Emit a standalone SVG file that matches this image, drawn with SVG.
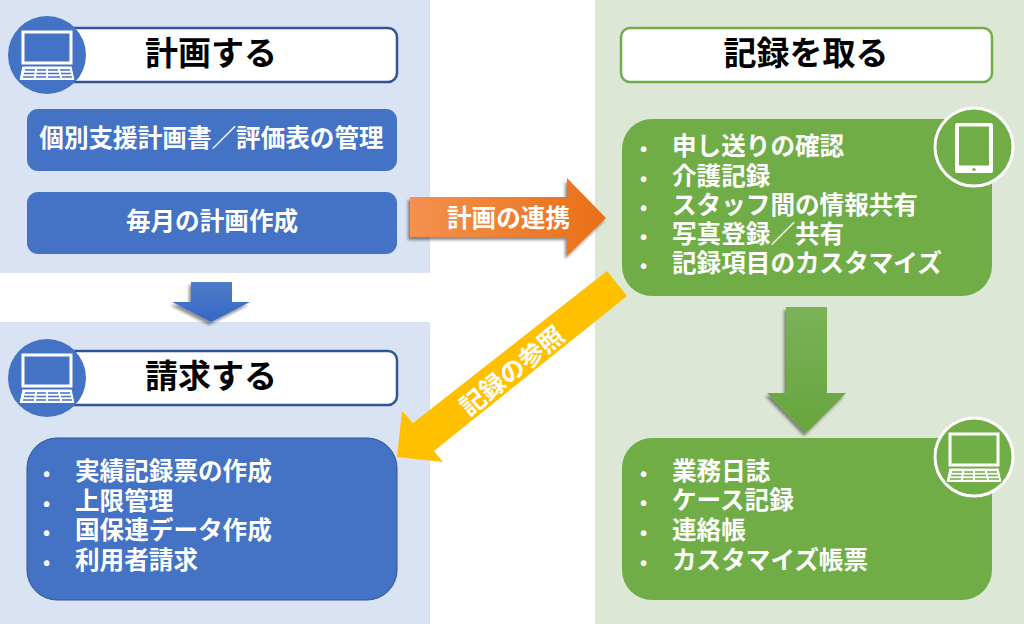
<svg xmlns="http://www.w3.org/2000/svg" width="1024" height="624" viewBox="0 0 1024 624">
<style>
text{font-family:"Noto Sans CJK JP","Noto Sans",sans-serif;font-weight:700}
.t{font-size:33px;fill:#000;text-anchor:middle}
.w{font-size:24.600px;fill:#fff}
.c{text-anchor:middle}
.b{font-size:19px}
.blue{fill:#4472c4}
.green{fill:#70ad47}
</style>
<defs>
<linearGradient id="gO" x1="0" y1="0" x2="1" y2="0"><stop offset="0" stop-color="#f4914f"/><stop offset="1" stop-color="#e96f17"/></linearGradient>
<linearGradient id="gB" x1="0" y1="0" x2="0" y2="1"><stop offset="0" stop-color="#4f7ccb"/><stop offset="1" stop-color="#3567c4"/></linearGradient>
<linearGradient id="gG" x1="0" y1="0" x2="0" y2="1"><stop offset="0" stop-color="#7bb258"/><stop offset="1" stop-color="#66a53d"/></linearGradient>
<filter id="sh" x="-20%" y="-20%" width="140%" height="140%"><feDropShadow dx="-2" dy="3" stdDeviation="1.500" flood-color="#000" flood-opacity=".45"/></filter>
<g id="lap">
<path d="M-24-23H24V8H-24Z" fill="none" stroke="#fff" stroke-width="3"/>
<path d="M-25 11H25L28 25.500H-28Z" fill="#fff"/>
<path d="M-22 15H-12M-10 15H-1M1 15H11M13 15H23M-23 18.500H-12.500M-10.500 18.500H-1M1 18.500H12M14 18.500H24M-24 22H-13M-11 22H-1M1 22H13M15 22H25" stroke-width="1.600" fill="none"/>
</g>
</defs>
<g id="panels">
<rect x="0" y="0" width="430" height="273" fill="#dae3f3"/>
<rect x="0" y="322" width="430" height="302" fill="#dae3f3"/>
<rect x="595" y="0" width="429" height="624" fill="#dde7d5"/>
</g>
<g id="plan-title">
<rect x="60" y="28" width="337" height="54" rx="9" fill="#fff" stroke="#2f5597" stroke-width="2.500"/>
<circle cx="47" cy="55" r="39" class="blue"/>
<use href="#lap" x="47" y="55" stroke="#4472c4"/>
<text x="211" y="65" class="t">計画する</text>
</g>
<g id="plan-1"><rect x="27" y="109" width="370" height="62" rx="11" class="blue"/><text x="211.500" y="147" class="w c">個別支援計画書／評価表の管理</text></g>
<g id="plan-2"><rect x="27" y="192" width="370" height="62" rx="11" class="blue"/><text x="212" y="230" class="w c">毎月の計画作成</text></g>
<g id="bill-title">
<rect x="60" y="351" width="337" height="54" rx="9" fill="#fff" stroke="#2f5597" stroke-width="2.500"/>
<circle cx="47" cy="378" r="39" class="blue"/>
<use href="#lap" x="47" y="378" stroke="#4472c4"/>
<text x="211" y="388" class="t">請求する</text>
</g>
<g id="bill-list">
<rect x="27" y="438" width="370" height="162" rx="30" class="blue" stroke="#2f5597"/>
<text class="w"><tspan class="b" x="43" y="480">•</tspan><tspan x="75" y="480">実績記録票の作成</tspan><tspan class="b" x="43" y="510">•</tspan><tspan x="75" y="510">上限管理</tspan><tspan class="b" x="43" y="539">•</tspan><tspan x="75" y="539">国保連データ作成</tspan><tspan class="b" x="43" y="569">•</tspan><tspan x="75" y="569">利用者請求</tspan></text>
</g>
<g id="rec-title">
<rect x="621" y="28" width="371" height="54" rx="9" fill="#fff" stroke="#70ad47" stroke-width="2.500"/>
<text x="806" y="65" class="t">記録を取る</text>
</g>
<g id="rec-list">
<rect x="622" y="119" width="370" height="177" rx="30" class="green"/>
<text class="w"><tspan class="b" x="640" y="155">•</tspan><tspan x="672" y="155">申し送りの確認</tspan><tspan class="b" x="640" y="185">•</tspan><tspan x="672" y="185">介護記録</tspan><tspan class="b" x="640" y="214">•</tspan><tspan x="672" y="214">スタッフ間の情報共有</tspan><tspan class="b" x="640" y="243">•</tspan><tspan x="672" y="243">写真登録／共有</tspan><tspan class="b" x="640" y="272">•</tspan><tspan x="672" y="272">記録項目のカスタマイズ</tspan></text>
</g>
<g id="tablet">
<circle cx="974" cy="147" r="39" class="green" stroke="#fff" stroke-width="3"/>
<rect x="955" y="123" width="38" height="50" rx="2" fill="#fff"/>
<rect x="959" y="126.500" width="30" height="39" class="green"/>
<circle cx="974" cy="169.500" r="1.600" class="green"/>
</g>
<g id="doc-list">
<rect x="622" y="438" width="370" height="162" rx="30" class="green"/>
<text class="w"><tspan class="b" x="640" y="480">•</tspan><tspan x="672" y="480">業務日誌</tspan><tspan class="b" x="640" y="509">•</tspan><tspan x="672" y="509">ケース記録</tspan><tspan class="b" x="640" y="539">•</tspan><tspan x="672" y="539">連絡帳</tspan><tspan class="b" x="640" y="569">•</tspan><tspan x="672" y="569">カスタマイズ帳票</tspan></text>
</g>
<g id="laptop">
<circle cx="974" cy="457" r="39" class="green" stroke="#fff" stroke-width="3"/>
<use href="#lap" x="974" y="457" stroke="#70ad47"/>
</g>
<g id="connectors">
<path d="M410 197H567V178L606 218L567 256V237H410Z" fill="url(#gO)" filter="url(#sh)"/>
<path d="M191 282H232V302H250L211 322L172 302H191Z" fill="url(#gB)" filter="url(#sh)"/>
<path d="M786 307H827V393H846L806 433L767 393H786Z" fill="url(#gG)" filter="url(#sh)"/>
<path d="M607 271L627 296L434 451L443 462L397 457L402 411L413 423Z" fill="#ffc000"/>
</g>
<g id="connector-labels">
<text x="508.500" y="227" class="w c">計画の連携</text>
<text class="w c" style="font-size:25px" transform="translate(512 371) rotate(-39)" y="9">記録の参照</text>
</g>
</svg>
